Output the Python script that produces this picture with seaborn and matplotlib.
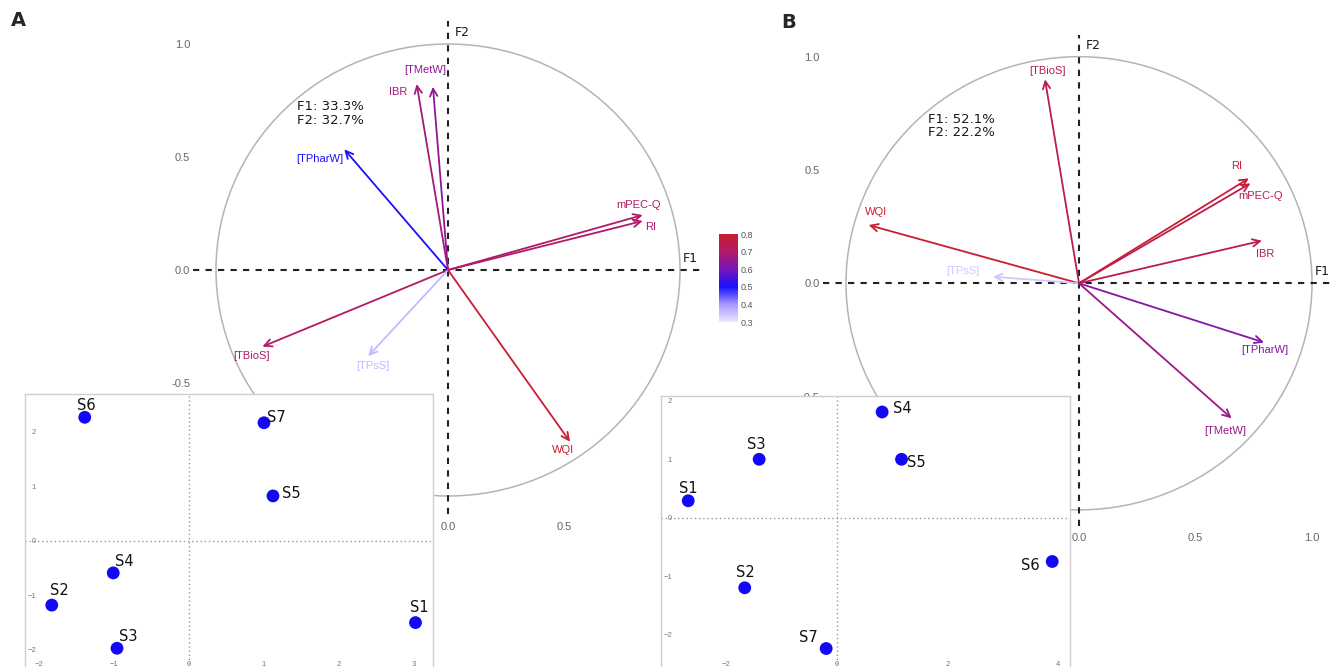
import matplotlib
matplotlib.use("Agg")
from matplotlib import pyplot as plt
from matplotlib.colors import LinearSegmentedColormap, Normalize
from matplotlib.cm import ScalarMappable
from matplotlib.patches import Circle
import pandas as pd
import seaborn as sns

W, H = 1330, 667

# Panel A: correlation circle (F1 x F2) and sample scores
variables_a = ["[TMetW]", "IBR", "[TPharW]", "mPEC-Q", "RI", "[TBioS]", "[TPsS]", "WQI"]
f1_a = [-0.065, -0.135, -0.447, 0.839, 0.839, -0.800, -0.344, 0.526]
f2_a = [0.811, 0.823, 0.534, 0.243, 0.217, -0.339, -0.381, -0.760]
cos2_a = [0.64, 0.68, 0.50, 0.70, 0.70, 0.71, 0.36, 0.80]
inertia_a = ["F1: 33.3%", "F2: 32.7%"]

samples_a = ["S1", "S2", "S3", "S4", "S5", "S6", "S7"]
score1_a = [3.02, -1.83, -0.96, -1.01, 1.12, -1.39, 1.00]
score2_a = [-1.50, -1.18, -1.97, -0.59, 0.82, 2.26, 2.16]

# Panel B
variables_b = ["[TBioS]", "WQI", "[TPsS]", "RI", "mPEC-Q", "IBR", "[TPharW]", "[TMetW]"]
f1_b = [-0.146, -0.903, -0.369, 0.729, 0.736, 0.785, 0.794, 0.655]
f2_b = [0.900, 0.257, 0.029, 0.463, 0.441, 0.188, -0.261, -0.596]
cos2_b = [0.74, 0.80, 0.34, 0.79, 0.76, 0.75, 0.62, 0.66]
inertia_b = ["F1: 52.1%", "F2: 22.2%"]

samples_b = ["S1", "S2", "S3", "S4", "S5", "S6", "S7"]
score1_b = [-2.68, -1.66, -1.40, 0.82, 1.17, 3.89, -0.19]
score2_b = [0.29, -1.20, 1.00, 1.81, 1.00, -0.75, -2.24]

# label offsets (pixels) relative to arrow tips / points
var_off_a = [(-8, 17), (-18, -8), (-24, -10), (-4, 10), (8, -6), (-11, -9), (5, -10), (-7, -8)]
var_off_b = [(3, 8), (7, 13), (-30, 6), (-12, 12), (10, -13), (3, -13), (1, -8), (-6, -13)]
smp_off_a = [(4, 15), (8, 15), (11, 12), (11, 11), (18, 2), (2, 12), (12, 5)]
smp_off_b = [(0, 12), (1, 15), (-3, 15), (20, 3), (15, -3), (-22, -4), (-18, 11)]

cmap = LinearSegmentedColormap.from_list(
        "cos2",
        [(0.0, "#ece6ff"), (0.2, "#a898ff"), (0.4, "#1a10ff"),
         (0.6, "#7a14b8"), (0.8, "#b01a68"), (1.0, "#c81e30")],
        )
norm = Normalize(0.3, 0.8)


def px_axes(fig, x0, y0, x1, y1):
    return fig.add_axes([x0 / W, 1 - y1 / H, (x1 - x0) / W, (y1 - y0) / H])


def data_axes(fig, ox, oy, sx, sy, xlim, ylim):
    ax = px_axes(fig, ox + xlim[0] * sx, oy - ylim[1] * sy,
                 ox + xlim[1] * sx, oy - ylim[0] * sy)
    ax.set_xlim(xlim)
    ax.set_ylim(ylim)
    return ax


def circle_panel(ax, names, f1, f2, cvals, offs, inertia, xpad):
    ax.set_facecolor("none")
    for s in ax.spines.values():
        s.set_visible(False)
    ax.add_patch(Circle((0, 0), 1, fill=False, color="#b4b4b4", lw=1.1, zorder=1))
    ax.axhline(0, color="#222222", ls=(0, (3, 3)), lw=1.5, zorder=2)
    ax.axvline(0, color="#222222", ls=(0, (3, 3)), lw=1.5, zorder=2)
    for name, x, y, c, off in zip(names, f1, f2, cvals, offs):
        col = cmap(norm(c))
        ax.annotate("", xy=(x, y), xytext=(0, 0),
                    arrowprops=dict(arrowstyle="->,head_length=0.45,head_width=0.22",
                                    color=col, lw=1.3, shrinkA=0, shrinkB=0),
                    zorder=3)
        ax.annotate(name, xy=(x, y), xytext=off, textcoords="offset pixels",
                    ha="center", va="center", fontsize=8, color=col)
    ax.text(-0.65, 0.75, "\n".join(inertia), ha="left", va="top",
            fontsize=9.5, color="#1a1a1a", family=["DejaVu Sans"], linespacing=1.0)
    ax.text(0.03, 1.05, "F2", ha="left", va="center", fontsize=9, color="#1a1a1a",
            family=["DejaVu Sans"], fontweight="medium")
    ax.text(1.01, 0.05, "F1", ha="left", va="center", fontsize=9, color="#1a1a1a",
            family=["DejaVu Sans"], fontweight="medium")
    ax.set_xticks([-1.0, -0.5, 0.0, 0.5, 1.0])
    ax.set_yticks([-1.0, -0.5, 0.0, 0.5, 1.0])
    ax.set_xticklabels(["-1.0", "-0.5", "0.0", "0.5", "1.0"])
    ax.set_yticklabels(["-1.0", "-0.5", "0.0", "0.5", "1.0"])
    ax.tick_params(axis="both", length=0, labelsize=8, colors="#666666")
    ax.tick_params(axis="y", pad=2)
    ax.tick_params(axis="x", pad=xpad)


def score_panel(ax, names, s1, s2, offs, xticks, yticks):
    ax.set_facecolor("white")
    for s in ax.spines.values():
        s.set_color("#cfcfcf")
        s.set_linewidth(1.0)
    ax.axhline(0, color="#9a9a9a", ls=(0, (1, 2)), lw=1.0, zorder=1)
    ax.axvline(0, color="#9a9a9a", ls=(0, (1, 2)), lw=1.0, zorder=1)
    df = pd.DataFrame({"F1": s1, "F2": s2, "sample": names})
    sns.scatterplot(data=df, x="F1", y="F2", ax=ax, color="#1208f5",
                    s=85, edgecolor="none", legend=False, zorder=3)
    for name, x, y, off in zip(names, s1, s2, offs):
        ax.annotate(name, xy=(x, y), xytext=off, textcoords="offset pixels",
                    ha="center", va="center", fontsize=10.5, color="#111111",
                    family=["DejaVu Sans"], fontweight="medium")
    ax.set_xlabel("")
    ax.set_ylabel("")
    ax.set_xticks(xticks)
    ax.set_yticks(yticks)
    ax.tick_params(axis="both", direction="in", length=2.5, width=0.7,
                   labelsize=5.5, colors="#777777", pad=-8)


def main():
    sns.set_theme(style="white")
    plt.rcParams["font.family"] = ["Liberation Sans", "DejaVu Sans"]

    fig = plt.figure(figsize=(W / 100, H / 100), dpi=100)
    fig.patch.set_facecolor("white")

    ax_a = data_axes(fig, 448, 270, 232, 226, (-1.10, 1.10), (-1.08, 1.10))
    circle_panel(ax_a, variables_a, f1_a, f2_a, cos2_a, var_off_a, inertia_a, 6)

    ax_b = data_axes(fig, 1079, 283.3, 233, 226.6, (-1.10, 1.12), (-1.07, 1.094))
    circle_panel(ax_b, variables_b, f1_b, f2_b, cos2_b, var_off_b, inertia_b, 5)

    cax = px_axes(fig, 719, 234, 738, 322)
    cb = fig.colorbar(ScalarMappable(norm=norm, cmap=cmap), cax=cax)
    cb.set_ticks([0.3, 0.4, 0.5, 0.6, 0.7, 0.8])
    cb.outline.set_visible(False)
    cax.tick_params(length=0, labelsize=6.5, colors="#555555", pad=2)

    ins_a = data_axes(fig, 189, 540.7, 75, 54.6, (-2.187, 3.253), (-2.405, 2.687))
    score_panel(ins_a, samples_a, score1_a, score2_a, smp_off_a,
                [-2, -1, 0, 1, 2, 3], [-2, -1, 0, 1, 2])

    ins_b = data_axes(fig, 836.7, 517.7, 55.4, 58.4, (-3.171, 4.211), (-2.642, 2.084))
    score_panel(ins_b, samples_b, score1_b, score2_b, smp_off_b,
                [-2, 0, 2, 4], [-2, -1, 0, 1, 2])

    fig.text(18 / W, 1 - 20 / H, "A", fontsize=14, fontweight="bold",
             ha="center", va="center", family=["DejaVu Sans"])
    fig.text(789 / W, 1 - 22 / H, "B", fontsize=14, fontweight="bold",
             ha="center", va="center", family=["DejaVu Sans"])

    fig.savefig("out.png", dpi=100)


if __name__ == "__main__":
    main()
